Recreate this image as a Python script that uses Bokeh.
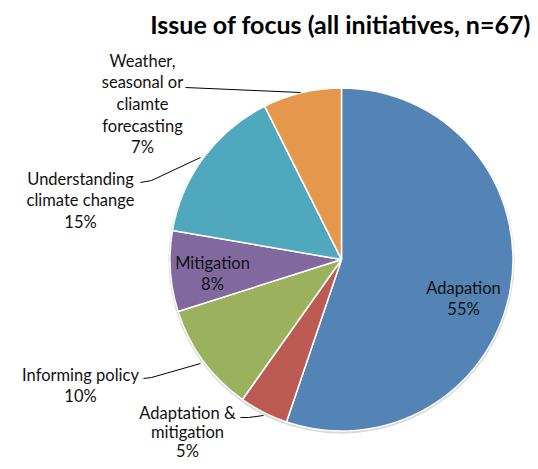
import math
from bokeh.plotting import figure
from bokeh.models import ColumnDataSource, Range1d
from bokeh.core.properties import value
from bokeh.embed import file_html
from bokeh.resources import INLINE

# ---- data ----
categories = ["Adapation", "Adaptation & mitigation", "Informing policy",
              "Mitigation", "Understanding climate change",
              "Weather, seasonal or cliamte forecasting"]
shares = [55.2, 4.6, 10.3, 7.6, 14.9, 7.4]
colors = ["#5483B5", "#BB5B54", "#9CB15E", "#8169A0", "#4FA8BD", "#E5984C"]
label_lines = [["Adapation"], ["Adaptation &", "mitigation"], ["Informing policy"],
               ["Mitigation"], ["Understanding", "climate change"],
               ["Weather,", "seasonal or", "cliamte", "forecasting"]]
title = "Issue of focus (all initiatives, n=67)"

# ---- layout (reference pixel coordinates, y down) ----
PW, PH = 530, 461
CX, CY, R = 341, 259, 171.5
label_pos = [(463, 287), (187, 412), (80, 374), (212, 262), (80, 178), (142, 60)]
label_gap = [21.5, 19.0, 21.5, 21.5, 21.5, 21.7]
leaders = [None,
           [(240, 417), (248, 417), (263, 415)],
           [(143, 378), (151, 377), (200, 363)],
           None,
           [(140, 182), (151, 180), (200, 157)],
           [(185, 87), (300, 92)]]

FONT = "Lato"

p = figure(width=PW, height=PH, output_backend="svg", toolbar_location=None,
           x_range=Range1d(0, PW), y_range=Range1d(0, PH),
           min_border=0, outline_line_color=None)
p.axis.visible = False
p.grid.visible = False
p.background_fill_color = "white"
p.border_fill_color = "white"

def fy(y):
    return PH - y

total = sum(shares)
starts, ends = [], []
cum = 0.0
for s in shares:
    a0 = cum / total * 360.0
    cum += s
    a1 = cum / total * 360.0
    starts.append(math.radians(90 - a1))
    ends.append(math.radians(90 - a0))

# soft shadow
p.circle(x=[CX], y=[fy(CY) - 1.2], radius=R + 1.5, fill_color="#cfcfcf",
         line_color=None, fill_alpha=0.8)

src = ColumnDataSource(dict(x=[CX] * len(shares), y=[fy(CY)] * len(shares),
                            start=starts, end=ends, color=colors))
p.wedge(x="x", y="y", radius=R, start_angle="start", end_angle="end",
        fill_color="color", line_color="white", line_width=1.5, source=src)

# leader lines
xs, ys = [], []
for ld in leaders:
    if ld:
        xs.append([pt[0] for pt in ld])
        ys.append([fy(pt[1]) for pt in ld])
p.multi_line(xs=xs, ys=ys, line_color="black", line_width=1)

# labels
tx, ty, tt = [], [], []
for lines, s, (lx, ly), g in zip(label_lines, shares, label_pos, label_gap):
    allines = lines + ["%d%%" % round(s)]
    for k, t in enumerate(allines):
        tx.append(lx)
        ty.append(fy(ly + k * g))
        tt.append(t)
p.text(x=tx, y=ty, text=tt, text_align="center", text_baseline="middle",
       text_font=value(FONT), text_font_size="16.5px", text_color="#111111")

# title
p.text(x=[340], y=[fy(23)], text=[title], text_align="center",
       text_baseline="middle", text_font=value(FONT), text_font_size="25px",
       text_font_style="bold", text_color="#000000")

open("out.html", "w").write(file_html(p, INLINE))
